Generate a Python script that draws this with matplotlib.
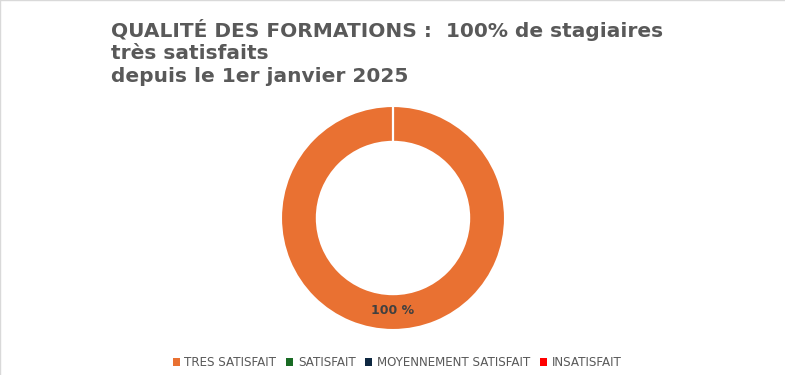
import matplotlib.pyplot as plt
from matplotlib.lines import Line2D
from matplotlib.patches import Patch

categories = ['TRES SATISFAIT', 'SATISFAIT', 'MOYENNEMENT SATISFAIT', 'INSATISFAIT']
values = [100, 0, 0, 0]
colors = ['#E97132', '#196B24', '#0E2841', '#FF0000']
title = 'QUALITÉ DES FORMATIONS :  100% de stagiaires\ntrès satisfaits\ndepuis le 1er janvier 2025'


def main():
    fig = plt.figure(figsize=(7.85, 3.75), dpi=100)
    # donut: center (393, 218) px, outer radius 112 px
    W, H = 785, 375
    R = 112
    ax = fig.add_axes([(393 - R) / W, 1 - (218 + R) / H, 2 * R / W, 2 * R / H])
    ax.pie(values, colors=colors, startangle=90, counterclock=False, radius=1.0,
           wedgeprops=dict(width=0.32, edgecolor='white', linewidth=1.5))
    ax.set_aspect('equal')
    ax.set_xlim(-1, 1)
    ax.set_ylim(-1, 1)
    ax.axis('off')
    ax.text(0, -0.83, '100 %', ha='center', va='center', fontsize=9,
            fontweight='bold', color='#404040')

    fig.text(111 / W, 1 - 19 / H, title, ha='left', va='top', fontsize=14.5,
             fontweight='bold', color='#595959', linespacing=1.22)

    handles = [Patch(facecolor=c, edgecolor='none') for c in colors]
    fig.legend(handles, categories, loc='center', bbox_to_anchor=(0.506, 1 - 363 / H),
               ncol=4, frameon=False, fontsize=8.6, labelcolor='#595959',
               handlelength=0.6, handleheight=0.6, handletextpad=0.4, columnspacing=0.8)

    # faint frame on left and top
    fig.add_artist(Line2D([0.0006, 0.0006], [0, 1], transform=fig.transFigure,
                          color='#D9D9D9', linewidth=1))
    fig.add_artist(Line2D([0, 1], [0.9987, 0.9987], transform=fig.transFigure,
                          color='#D9D9D9', linewidth=1))
    fig.savefig('out.png', dpi=100)


if __name__ == '__main__':
    main()
